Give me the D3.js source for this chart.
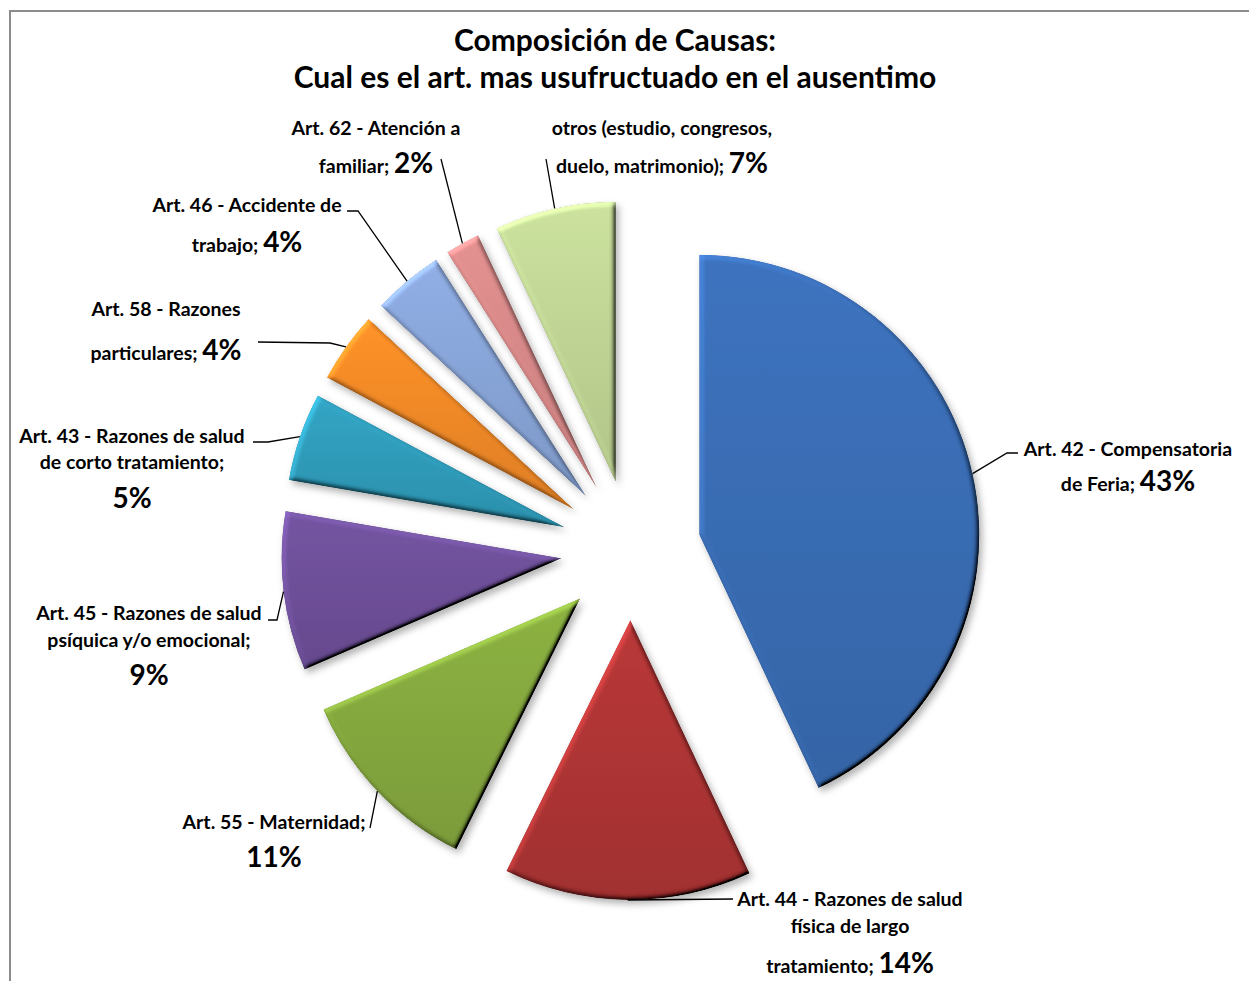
<!DOCTYPE html>
<html>
<head>
<meta charset="utf-8">
<script src="https://cdn.jsdelivr.net/npm/d3@7"></script>
<style>
  html, body { margin: 0; padding: 0; background: #fff; }
  svg { display: block; }
  text { font-family: Lato, "Open Sans", sans-serif; font-weight: bold; fill: #000; }
</style>
</head>
<body>
<svg id="chart" width="1249" height="981"></svg>
<script>
// ---- data ----
const categories = [
  "Art. 42 - Compensatoria de Feria",
  "Art. 44 - Razones de salud física de largo tratamiento",
  "Art. 55 - Maternidad",
  "Art. 45 - Razones de salud psíquica y/o emocional",
  "Art. 43 - Razones de salud de corto tratamiento",
  "Art. 58 - Razones particulares",
  "Art. 46 - Accidente de trabajo",
  "Art. 62 - Atención a familiar",
  "otros (estudio, congresos, duelo, matrimonio)"
];
const values = [43.0, 14.3, 11.2, 9.2, 5.1, 4.1, 4.1, 2.0, 7.0];
// wrapped label text as shown in the chart; "%" marks where the percentage goes
const labelLines = [
  ["Art. 42 - Compensatoria", "de Feria; %"],
  ["Art. 44 - Razones de salud", "física de largo", "tratamiento; %"],
  ["Art. 55 - Maternidad;", "%"],
  ["Art. 45 - Razones de salud", "psíquica y/o emocional;", "%"],
  ["Art. 43 - Razones de salud", "de corto tratamiento;", "%"],
  ["Art. 58 - Razones", "particulares; %"],
  ["Art. 46 - Accidente de", "trabajo; %"],
  ["Art. 62 - Atención a", "familiar; %"],
  ["otros (estudio, congresos,", "duelo, matrimonio); %"]
];
const titleLines = ["Composición de Causas:", "Cual es el art. mas usufructuado en el ausentimo"];
const colors = ["#3A6DB5", "#B03535", "#86AA3F", "#6E509A", "#2F9CBB", "#F38A27", "#89A6DA", "#D98989", "#C1D696"];

// ---- layout (positions for labels, not data) ----
const cx = 631, cy = 550, R = 280, explode = 70;
const labelLayout = [
  { x: 1128, ys: [456, 491], leader: [[1007, 453], [1018, 453]] },
  { x: 850, ys: [906, 933, 973], leader: [[733, 899]] },
  { x: 274, ys: [829, 867], leader: [[370, 828]] },
  { x: 149, ys: [620, 647, 685], leader: [[277, 620], [268, 620]] },
  { x: 132, ys: [443, 469, 508], leader: [[268, 442], [253, 442]] },
  { x: 166, ys: [316, 360], leader: [[330, 343], [258, 342]] },
  { x: 247, ys: [212, 252], leader: [[358, 211], [347, 211]] },
  { x: 376, ys: [135, 173], leader: [[441, 159]] },
  { x: 662, ys: [135, 173], leader: [[546, 159]] }
];

const svg = d3.select("#chart");
const defs = svg.append("defs");

// bevel + shadow filter
const f = defs.append("filter").attr("id", "bevel")
  .attr("x", "-20%").attr("y", "-20%").attr("width", "150%").attr("height", "150%");
f.append("feGaussianBlur").attr("in", "SourceAlpha").attr("stdDeviation", 2.5).attr("result", "b");
const dl = f.append("feDiffuseLighting").attr("in", "b").attr("surfaceScale", 3.5)
  .attr("diffuseConstant", 1).attr("lighting-color", "#fff").attr("result", "d");
dl.append("feDistantLight").attr("azimuth", 225).attr("elevation", 40);
f.append("feComposite").attr("in", "SourceGraphic").attr("in2", "d").attr("operator", "arithmetic")
  .attr("k1", 1 / Math.sin(40 * Math.PI / 180)).attr("k2", 0).attr("k3", 0).attr("k4", 0).attr("result", "sh");
f.append("feComposite").attr("in", "sh").attr("in2", "SourceAlpha").attr("operator", "in").attr("result", "sh2");
f.append("feGaussianBlur").attr("in", "SourceAlpha").attr("stdDeviation", 3.5).attr("result", "sb");
f.append("feOffset").attr("in", "sb").attr("dx", 3).attr("dy", 4).attr("result", "so");
f.append("feFlood").attr("flood-color", "#000").attr("flood-opacity", 0.3).attr("result", "fl");
f.append("feComposite").attr("in", "fl").attr("in2", "so").attr("operator", "in").attr("result", "shadow");
const mg = f.append("feMerge");
mg.append("feMergeNode").attr("in", "shadow");
mg.append("feMergeNode").attr("in", "sh2");

colors.forEach((c, i) => {
  const g = defs.append("linearGradient").attr("id", "g" + i)
    .attr("x1", 0).attr("y1", 0).attr("x2", 0).attr("y2", 1);
  g.append("stop").attr("offset", "0%").attr("stop-color", d3.color(c).brighter(0.15));
  g.append("stop").attr("offset", "100%").attr("stop-color", d3.color(c).darker(0.25));
});

// chart border
svg.append("rect").attr("x", 10).attr("y", 11).attr("width", 1300).attr("height", 1100)
  .attr("fill", "none").attr("stroke", "#8c8c8c").attr("stroke-width", 2);

// title
svg.append("g").selectAll("text").data(titleLines).join("text")
  .attr("x", 615).attr("y", (d, i) => 51 + i * 37)
  .attr("text-anchor", "middle").attr("font-size", 30).text(d => d);

// pie
const pie = d3.pie().sort(null).value(d => d).startAngle(0).endAngle(2 * Math.PI);
const arcs = pie(values);
const arc = d3.arc().innerRadius(0).outerRadius(R);
const pct = d3.format(".0%");
const total = d3.sum(values);

const slices = svg.append("g").attr("transform", `translate(${cx},${cy})`);
arcs.forEach((a, i) => {
  const mid = (a.startAngle + a.endAngle) / 2;
  a.off = [Math.sin(mid) * explode, -Math.cos(mid) * explode];
  a.outer = [cx + a.off[0] + Math.sin(mid) * R, cy + a.off[1] - Math.cos(mid) * R];
});
slices.selectAll("path").data(arcs).join("path")
  .attr("transform", d => `translate(${d.off[0]},${d.off[1]})`)
  .attr("d", arc)
  .attr("fill", (d, i) => `url(#g${i})`)
  .attr("filter", "url(#bevel)");

// leader lines
const line = d3.line();
svg.append("g").selectAll("path").data(arcs).join("path")
  .attr("d", (d, i) => line([d.outer, ...labelLayout[i].leader]))
  .attr("fill", "none").attr("stroke", "#000").attr("stroke-width", 1.3);

// labels
const lg = svg.append("g");
labelLines.forEach((lines, i) => {
  const L = labelLayout[i];
  const p = pct(values[i] / total);
  lines.forEach((ln, j) => {
    const t = lg.append("text").attr("x", L.x).attr("y", L.ys[j])
      .attr("text-anchor", "middle").attr("font-size", 19.5);
    if (ln.includes("%")) {
      const before = ln.replace("%", "");
      if (before.length) t.append("tspan").text(before);
      t.append("tspan").attr("font-size", 28).text(p);
    } else {
      t.text(ln);
    }
  });
});
</script>
</body>
</html>
